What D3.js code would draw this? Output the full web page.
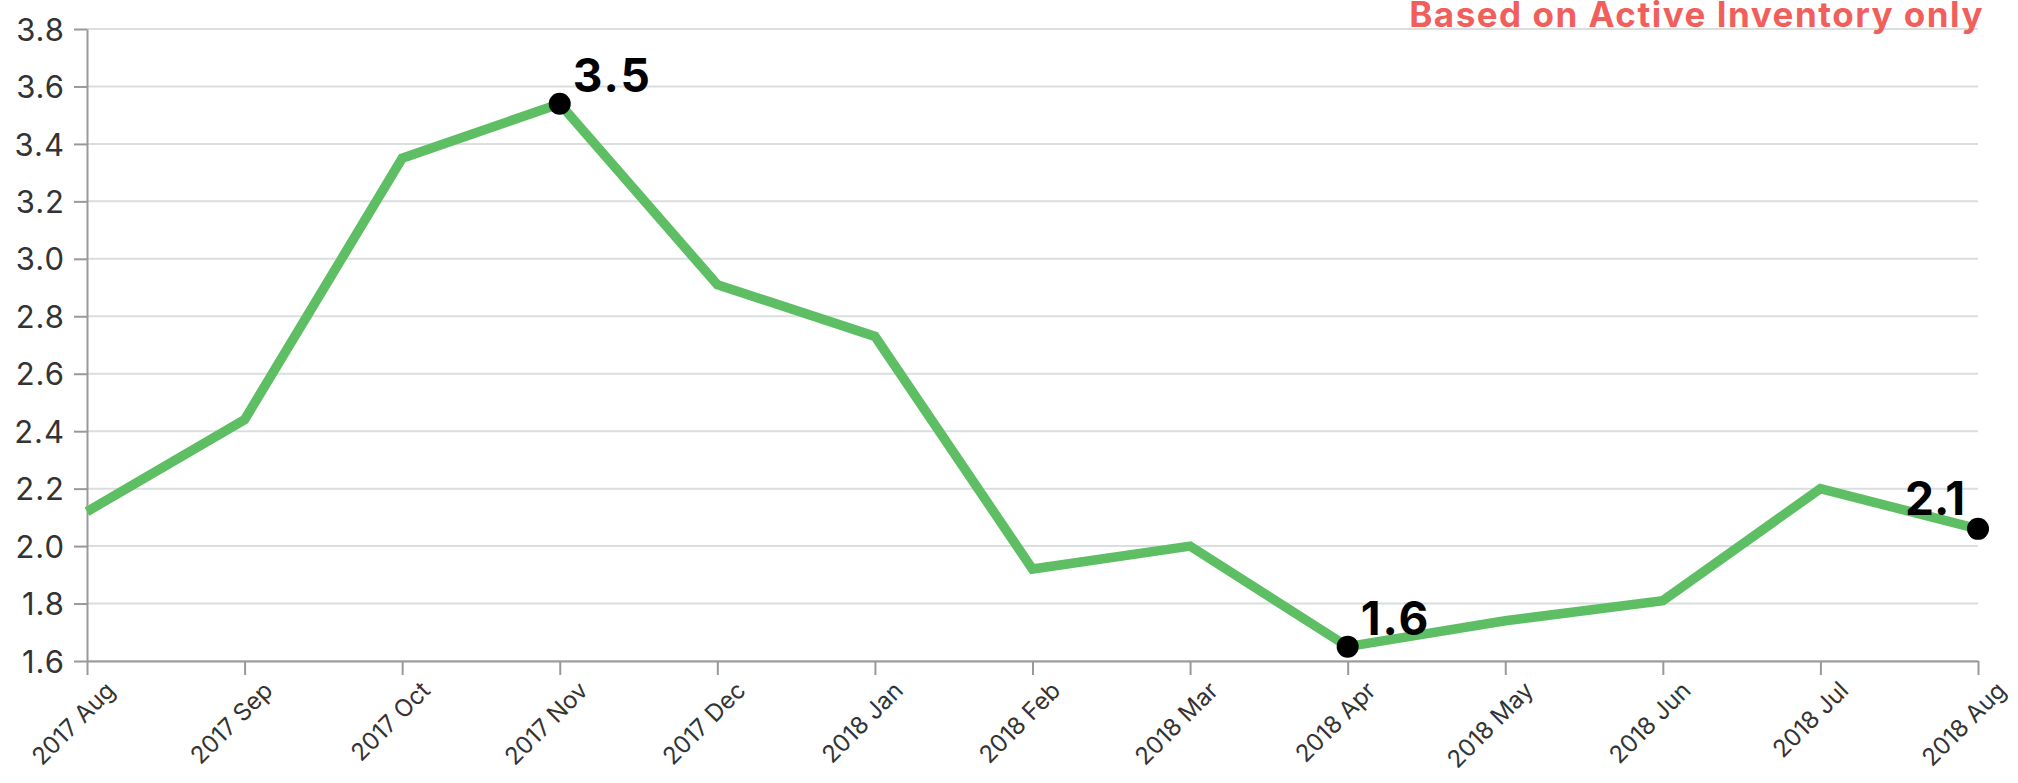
<!DOCTYPE html>
<html><head><meta charset="utf-8">
<script src="https://cdn.jsdelivr.net/npm/d3@7/dist/d3.min.js"></script>
<style>
html,body{margin:0;padding:0;background:#fff;}
svg{display:block;}
</style>
</head><body>
<svg id="chart" width="2018" height="783"></svg>
<script>
// ---- data ----
const months = ["2017 Aug","2017 Sep","2017 Oct","2017 Nov","2017 Dec","2018 Jan","2018 Feb","2018 Mar","2018 Apr","2018 May","2018 Jun","2018 Jul","2018 Aug"];
const values = [2.12, 2.44, 3.35, 3.54, 2.91, 2.73, 1.92, 2.00, 1.65, 1.74, 1.81, 2.20, 2.06];
const labelledMonths = ["2017 Nov","2018 Apr","2018 Aug"];
const labelTexts = ["3.5","1.6","2.1"];
const yTicks = [1.6,1.8,2.0,2.2,2.4,2.6,2.8,3.0,3.2,3.4,3.6,3.8];
const titleText = "Based on Active Inventory only";

// ---- layout ----
const W = 2018, H = 783;
const margin = {left: 87, right: 40, top: 29, bottom: 122};
const svg = d3.select("#chart");
const font = "Inter, 'Open Sans', sans-serif";

const x = d3.scalePoint().domain(months).range([margin.left, W - margin.right]);
const y = d3.scaleLinear().domain([1.6, 3.8]).range([H - margin.bottom, margin.top]);

// gridlines
svg.append("g").selectAll("line").data(yTicks).join("line")
  .attr("x1", margin.left).attr("x2", W - margin.right)
  .attr("y1", d => y(d)).attr("y2", d => y(d))
  .attr("stroke", "#dadede").attr("stroke-width", 2);

// y axis
const yAxis = svg.append("g").attr("transform", `translate(${margin.left},0)`)
  .call(d3.axisLeft(y).tickValues(yTicks).tickFormat(d3.format(".1f"))
    .tickSize(13).tickSizeOuter(0).tickPadding(9));
yAxis.selectAll("path,line").attr("stroke", "#999").attr("stroke-width", 2);
yAxis.selectAll("text").attr("font-family", font).attr("font-size", 31)
  .attr("letter-spacing", 1).attr("fill", "#333").attr("dy", "0.36em");

// x axis
const xAxis = svg.append("g").attr("transform", `translate(0,${H - margin.bottom})`)
  .call(d3.axisBottom(x).tickSize(14).tickSizeOuter(0));
xAxis.selectAll("path,line").attr("stroke", "#999").attr("stroke-width", 2);
xAxis.selectAll("text")
  .attr("font-family", font).attr("font-size", 24).attr("fill", "#333")
  .attr("x", 0).attr("y", 0).attr("dy", 0)
  .attr("text-anchor", "end")
  .attr("transform", "translate(29,31) rotate(-45)");

// line
const line = d3.line().x((d, i) => x(months[i])).y(d => y(d));
svg.append("path").datum(values)
  .attr("d", line).attr("fill", "none")
  .attr("stroke", "#5dbe63").attr("stroke-width", 9.5)
  .attr("stroke-linejoin", "miter");

// labelled points
const pts = labelledMonths.map((m, k) => ({m, v: values[months.indexOf(m)], t: labelTexts[k]}));
svg.append("g").selectAll("circle").data(pts).join("circle")
  .attr("cx", d => x(d.m)).attr("cy", d => y(d.v)).attr("r", 11).attr("fill", "#000");
const atEnd = d => x(d.m) >= W - margin.right - 1;
svg.append("g").selectAll("text").data(pts).join("text")
  .attr("x", d => atEnd(d) ? x(d.m) - 13 : x(d.m) + 13)
  .attr("y", d => y(d.v) - (atEnd(d) ? 14 : 12))
  .attr("text-anchor", d => atEnd(d) ? "end" : "start")
  .attr("font-family", font).attr("font-weight", 700).attr("font-size", 46)
  .attr("letter-spacing", d => atEnd(d) ? 0 : 2)
  .attr("fill", "#000")
  .text(d => d.t);

// title
svg.append("text")
  .attr("x", 1984).attr("y", 27).attr("text-anchor", "end")
  .attr("font-family", font).attr("font-weight", 700).attr("font-size", 35)
  .attr("letter-spacing", 1.5)
  .attr("fill", "#f15f5d")
  .text(titleText);
</script>
</body></html>
